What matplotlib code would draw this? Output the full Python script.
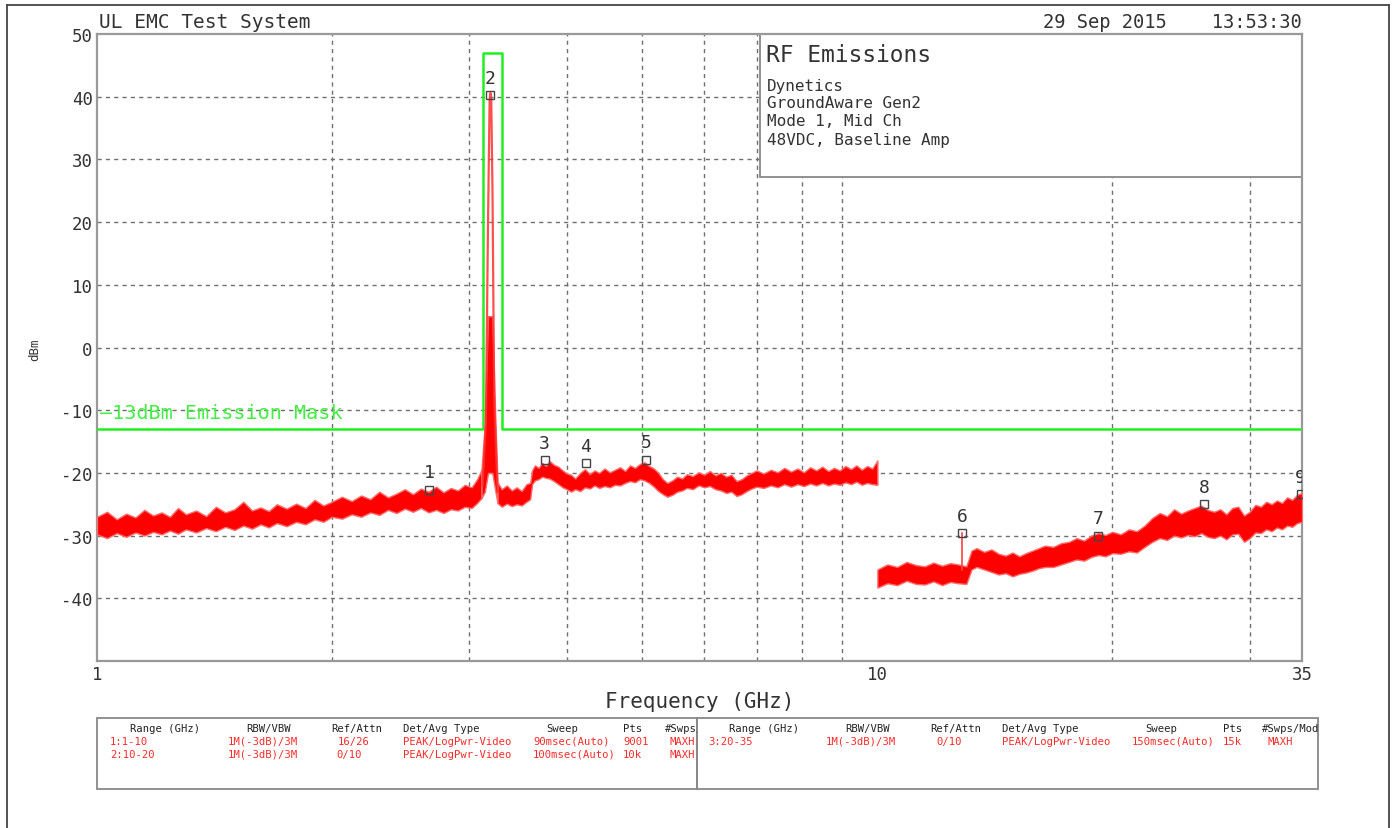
import numpy as np
import matplotlib
matplotlib.use("Agg")
import matplotlib.pyplot as plt
from matplotlib.patches import Rectangle
from matplotlib.lines import Line2D

plt.rcParams['font.family'] = ['DejaVu Sans Mono', 'DejaVu Sans']
plt.rcParams['axes.unicode_minus'] = False

W, H = 1393, 829

# trace 1-3.11 GHz: frequency (GHz), lower and upper edge (dBm)
low_f = [1.00, 1.03, 1.06, 1.09, 1.12, 1.15, 1.18, 1.21, 1.24, 1.27, 1.30, 1.34,
         1.38, 1.42, 1.46, 1.50, 1.54, 1.58, 1.62, 1.66, 1.70, 1.75, 1.80, 1.85,
         1.90, 1.95, 2.00, 2.06, 2.12, 2.18, 2.24, 2.30, 2.36, 2.42, 2.48, 2.54,
         2.60, 2.66, 2.72, 2.78, 2.84, 2.90, 2.96, 3.02, 3.07, 3.11]
low_hi = [-27.0, -26.2, -27.4, -26.5, -27.1, -25.9, -26.8, -26.3, -27.0, -25.6, -26.6, -26.0,
          -26.9, -25.4, -26.3, -25.8, -24.6, -26.0, -25.5, -26.1, -25.0, -25.7, -24.9, -25.6,
          -24.3, -25.2, -24.6, -23.8, -24.5, -23.6, -24.2, -23.0, -23.9, -23.3, -22.6, -23.4,
          -22.5, -23.0, -22.2, -23.1, -22.4, -22.8, -21.9, -22.3, -21.0, -19.5]
low_lo = [-29.8, -30.4, -29.6, -30.2, -29.5, -30.0, -29.4, -29.8, -29.2, -29.7, -29.0, -29.5,
          -28.8, -29.3, -28.6, -29.1, -28.4, -28.9, -28.2, -28.7, -28.0, -28.5, -27.8, -28.2,
          -27.4, -27.8, -27.0, -27.3, -26.6, -27.0, -26.3, -26.7, -25.9, -26.4, -25.7, -26.2,
          -25.6, -26.3, -25.9, -26.4, -25.8, -26.0, -25.4, -25.6, -24.8, -24.0]

# skirt of the carrier
base_f = [3.11, 3.14, 3.17, 3.21, 3.24, 3.26]
base_lo = [-24.0, -23.0, -20.0, -20.0, -23.0, -24.8]
base_hi = [-19.5, -12.0, 5.0, 5.0, -12.0, -21.5]

# carrier at ~3.19 GHz
peak_f = [3.12, 3.150, 3.170, 3.185, 3.192, 3.200, 3.212, 3.228, 3.26]
peak_db = [-22.0, -12.0, 20.0, 39.5, 40.6, 39.8, 25.0, -8.0, -23.0]

# trace 3.26-10 GHz
mid_f = [3.26, 3.30, 3.35, 3.40, 3.45, 3.50, 3.55, 3.59,
         3.61, 3.64, 3.68, 3.72, 3.76, 3.80, 3.85, 3.90, 3.95, 4.00,
         4.05, 4.10, 4.16, 4.22, 4.28, 4.34, 4.40, 4.47, 4.54, 4.61,
         4.68, 4.75, 4.82, 4.89, 4.96, 5.03, 5.10, 5.17, 5.24, 5.31,
         5.38, 5.46, 5.54, 5.62, 5.70, 5.80, 5.90, 6.00, 6.10, 6.20,
         6.30, 6.40, 6.50, 6.60, 6.70, 6.80, 6.90, 7.00, 7.15, 7.30,
         7.45, 7.60, 7.75, 7.90, 8.05, 8.20, 8.35, 8.50, 8.65, 8.80,
         8.95, 9.10, 9.25, 9.40, 9.55, 9.70, 9.85, 10.0]
mid_hi = [-21.5, -22.6, -22.0, -22.8, -22.3, -22.9, -21.8, -21.6,
          -19.6, -18.8, -19.2, -18.4, -18.9, -18.1, -18.7, -19.0, -19.6, -20.1,
          -20.3, -20.9, -20.0, -19.4, -20.2, -19.6, -20.0, -19.3, -19.9, -19.5,
          -19.1, -19.7, -18.8, -19.2, -18.6, -18.3, -18.9, -19.3, -20.0, -21.0,
          -21.6, -21.2, -20.6, -20.9, -20.2, -20.5, -19.9, -20.3, -19.7, -20.4,
          -20.0, -20.6, -20.3, -21.3, -21.0, -20.4, -20.0, -19.6, -20.1, -19.5,
          -19.9, -19.2, -19.8, -19.3, -19.9, -19.1, -19.6, -19.0, -19.7, -19.2,
          -19.6, -18.9, -19.4, -18.8, -19.5, -18.9, -19.3, -18.0]
mid_lo = [-24.8, -25.4, -24.9, -25.3, -25.0, -25.2, -24.6, -24.2,
          -21.8, -21.2, -21.0, -20.6, -20.8, -20.9, -21.3, -21.8, -22.3, -22.6,
          -23.0, -22.6, -22.9, -22.3, -22.5, -22.0, -22.4, -22.1, -22.3, -21.9,
          -22.0, -21.6, -21.3, -21.5, -21.0, -21.2, -21.6, -22.2, -22.9, -23.4,
          -23.8, -23.5, -23.0, -22.8, -22.4, -22.6, -22.0, -22.3, -22.1, -22.6,
          -22.8, -23.2, -23.0, -23.7, -23.4, -22.9, -22.5, -22.2, -22.4, -22.0,
          -22.3, -21.8, -22.2, -21.8, -22.1, -21.7, -22.0, -21.6, -22.0, -21.7,
          -21.9, -21.5, -21.8, -21.4, -21.9, -21.6, -21.8, -21.9]

# trace 10-35 GHz
high_f = [10.0, 10.3, 10.6, 10.9, 11.2, 11.5, 11.8, 12.1, 12.4, 12.7, 13.0,
          13.2, 13.4,
          13.7, 14.0, 14.3, 14.6, 14.9, 15.2, 15.5, 15.8, 16.1, 16.4,
          16.8, 17.2, 17.6, 18.0, 18.4, 18.8, 19.2, 19.6, 20.0,
          20.5, 21.0, 21.5, 22.0, 22.5, 23.0, 23.5, 24.0, 24.5, 25.0,
          25.5, 26.0, 26.5, 27.0, 27.5, 28.0, 28.5, 29.0, 29.5, 30.0,
          30.5, 31.0, 31.5, 32.0, 32.5, 33.0, 33.5, 34.0, 34.5, 35.0]
high_hi = [-35.4, -34.6, -35.0, -34.2, -34.7, -34.9, -34.3, -34.8, -34.4, -34.6, -34.9,
           -32.4, -32.0,
           -32.6, -32.2, -32.9, -33.2, -32.7, -33.3, -32.8, -32.4, -32.0, -31.6,
           -31.8, -31.2, -31.0, -30.4, -30.8, -30.0, -29.6, -29.9, -29.4,
           -29.8, -29.0, -29.3, -28.4, -27.2, -26.4, -26.9, -25.8, -26.5, -26.0,
           -25.6, -25.2, -25.9, -26.2, -25.8, -26.6, -25.6, -25.4, -26.8, -26.2,
           -25.1, -25.4, -24.6, -25.0, -24.4, -24.8, -23.9, -24.3, -23.5, -23.2]
high_lo = [-38.3, -37.6, -37.9, -37.2, -37.7, -37.8, -37.3, -37.9, -37.4, -37.6, -37.7,
           -35.4, -35.0,
           -35.4, -35.8, -36.2, -36.0, -36.5, -36.1, -35.9, -35.6, -35.2, -35.0,
           -35.0, -34.6, -34.2, -33.8, -34.0, -33.4, -33.1, -33.3, -32.8,
           -32.9, -32.5, -32.7, -31.8, -31.0, -30.4, -30.7, -30.0, -30.3, -29.9,
           -30.1, -29.6, -30.2, -30.4, -30.0, -30.6, -29.8, -29.7, -31.0, -30.4,
           -29.5, -29.6, -29.0, -29.3, -28.7, -29.0, -28.4, -28.6, -28.0, -27.8]

# narrow spur at marker 6
spur_f = [12.85, 12.85]
spur_db = [-35.5, -29.6]

# emission mask
mask_f = [1.0, 3.12, 3.12, 3.30, 3.30, 35.0]
mask_db = [-13, -13, 47, 47, -13, -13]
mask_label = "\u201413dBm Emission Mask"

# markers
marker_ids = ['1', '2', '3', '4', '5', '6', '7', '8', '9']
marker_f = [2.665, 3.19, 3.745, 4.227, 5.056, 12.85, 19.2, 26.2, 34.85]
marker_db = [-22.7, 40.2, -18.0, -18.5, -17.9, -29.6, -30.0, -25.0, -23.4]

y_ticks = [50, 40, 30, 20, 10, 0, -10, -20, -30, -40]
x_ticks = [1, 10, 35]
x_grid = [2, 3, 4, 5, 6, 7, 8, 9, 20, 30]

info_title = "RF Emissions"
info_lines = ["Dynetics", "GroundAware Gen2", "Mode 1, Mid Ch", "48VDC, Baseline Amp"]

tbl_header = ["Range (GHz)", "RBW/VBW", "Ref/Attn", "Det/Avg Type", "Sweep", "Pts", "#Swps/Mod"]
tbl_left_x = [130, 246, 331, 403, 546, 623, 665]
tbl_left_rows = [
    ["1:1-10", "1M(-3dB)/3M", "16/26", "PEAK/LogPwr-Video", "90msec(Auto)", "9001", "MAXH"],
    ["2:10-20", "1M(-3dB)/3M", "0/10", "PEAK/LogPwr-Video", "100msec(Auto)", "10k", "MAXH"],
]
tbl_left_row_x = [[110, 228, 338, 403, 533, 623, 670],
                  [110, 228, 336, 403, 533, 623, 670]]
tbl_right_x = [729, 845, 930, 1002, 1145, 1223, 1262]
tbl_right_rows = [
    ["3:20-35", "1M(-3dB)/3M", "0/10", "PEAK/LogPwr-Video", "150msec(Auto)", "15k", "MAXH"],
]
tbl_right_row_x = [[708, 826, 936, 1002, 1132, 1223, 1268]]


def fx(x):
    return x / W


def fy(y):
    return 1 - y / H


fig = plt.figure(figsize=(W / 100, H / 100), dpi=100)
ax = fig.add_axes([fx(97), fy(662), fx(1302) - fx(97), fy(35) - fy(662)])
ax.set_xscale('log')
ax.set_xlim(1, 35)
ax.set_ylim(-50, 50)

# grid
for f in x_grid:
    ax.axvline(f, color='#707070', lw=1, ls=(0, (3, 3)), zorder=1)
for v in y_ticks[1:]:
    ax.axhline(v, color='#707070', lw=1, ls=(0, (3, 3)), zorder=1)

ax.set_yticks(y_ticks)
ax.set_yticklabels([str(v) for v in y_ticks])
ax.set_xticks(x_ticks)
ax.set_xticklabels([str(v) for v in x_ticks])
ax.xaxis.set_minor_locator(matplotlib.ticker.NullLocator())
ax.tick_params(length=0, labelsize=12.5, colors='#333333', pad=3)
for s in ax.spines.values():
    s.set_color('#999999')
    s.set_linewidth(1.6)

# info box
ax.add_patch(Rectangle((fx(760), fy(178)), fx(1302) - fx(760), fy(35) - fy(178),
                       transform=fig.transFigure, facecolor='white',
                       edgecolor='#888888', lw=1.3, zorder=2))
fig.text(fx(766), fy(55), info_title, fontsize=16.5, color='#333333', va='center')
for i, line in enumerate(info_lines):
    fig.text(fx(767), fy(86 + 18 * i), line, fontsize=11.5, color='#333333', va='center')

# mask
ax.plot(mask_f, mask_db, color='#22ee22', lw=1.8, zorder=3)
ax.text(1.01, -10.3, mask_label, fontsize=14.5, color='#44ee44', va='center', zorder=3)

# trace
for f, lo, hi in [(low_f, low_lo, low_hi), (base_f, base_lo, base_hi),
                  (mid_f, mid_lo, mid_hi), (high_f, high_lo, high_hi)]:
    ax.fill_between(f, lo, hi, color='red', lw=1.0, ec='#ff6a6a', zorder=4)
ax.plot(peak_f, peak_db, color='#ff3030', lw=1.6, alpha=0.85, zorder=4)
ax.plot(spur_f, spur_db, color='#ff4040', lw=1.2, zorder=4)

# markers
ax.plot(marker_f, marker_db, ls='none', marker='s', ms=6, mfc='none',
        mec='#444444', mew=1.0, zorder=5)
for mid, f, v in zip(marker_ids, marker_f, marker_db):
    ax.annotate(mid, (f, v), xytext=(0, 6), textcoords='offset points',
                ha='center', va='bottom', fontsize=13, color='#333333',
                zorder=5, annotation_clip=False, clip_on=True)

ax.set_xlabel("Frequency (GHz)", fontsize=15, color='#333333', labelpad=6)
fig.text(fx(35), fy(350), "dBm", fontsize=9, rotation=90, color='#333333',
         ha='center', va='center')

# header
fig.text(fx(99), fy(22), "UL EMC Test System", fontsize=14, color='#333333', va='center')
fig.text(fx(1302), fy(22), "29 Sep 2015    13:53:30", fontsize=13.5, color='#333333',
         va='center', ha='right')

# settings table
boxes = [(97, 697), (697, 1318)]
for x0, x1 in boxes:
    r = Rectangle((fx(x0), fy(790)), fx(x1) - fx(x0), fy(719) - fy(790),
                  transform=fig.transFigure, facecolor='none', edgecolor='#888888', lw=1.3)
    fig.add_artist(r)

clip_left = Rectangle((fx(97), fy(790)), fx(697) - fx(97), fy(719) - fy(790),
                      transform=fig.transFigure, facecolor='none', edgecolor='none')
clip_right = Rectangle((fx(697), fy(790)), fx(1318) - fx(697), fy(719) - fy(790),
                       transform=fig.transFigure, facecolor='none', edgecolor='none')
fig.add_artist(clip_left)
fig.add_artist(clip_right)

for xs, clip, rows, rows_x in [(tbl_left_x, clip_left, tbl_left_rows, tbl_left_row_x),
                               (tbl_right_x, clip_right, tbl_right_rows, tbl_right_row_x)]:
    for label, x in zip(tbl_header, xs):
        t = fig.text(fx(x), fy(729), label, fontsize=7.6, color='#222222', va='center')
        t.set_clip_path(clip)
    for r, (row, row_x) in enumerate(zip(rows, rows_x)):
        for label, x in zip(row, row_x):
            t = fig.text(fx(x), fy(742 + 13 * r), label, fontsize=7.6, color='#ff2a2a',
                         va='center')
            t.set_clip_path(clip)

# outer frame
for xs, ys in [([7, 7], [6, 829]), ([7, 1389], [6, 6]), ([1389, 1389], [6, 829])]:
    fig.add_artist(Line2D([fx(x) for x in xs], [fy(y) for y in ys],
                          color='#444444', lw=1.3))

fig.savefig("out.png", dpi=100, facecolor='white')
